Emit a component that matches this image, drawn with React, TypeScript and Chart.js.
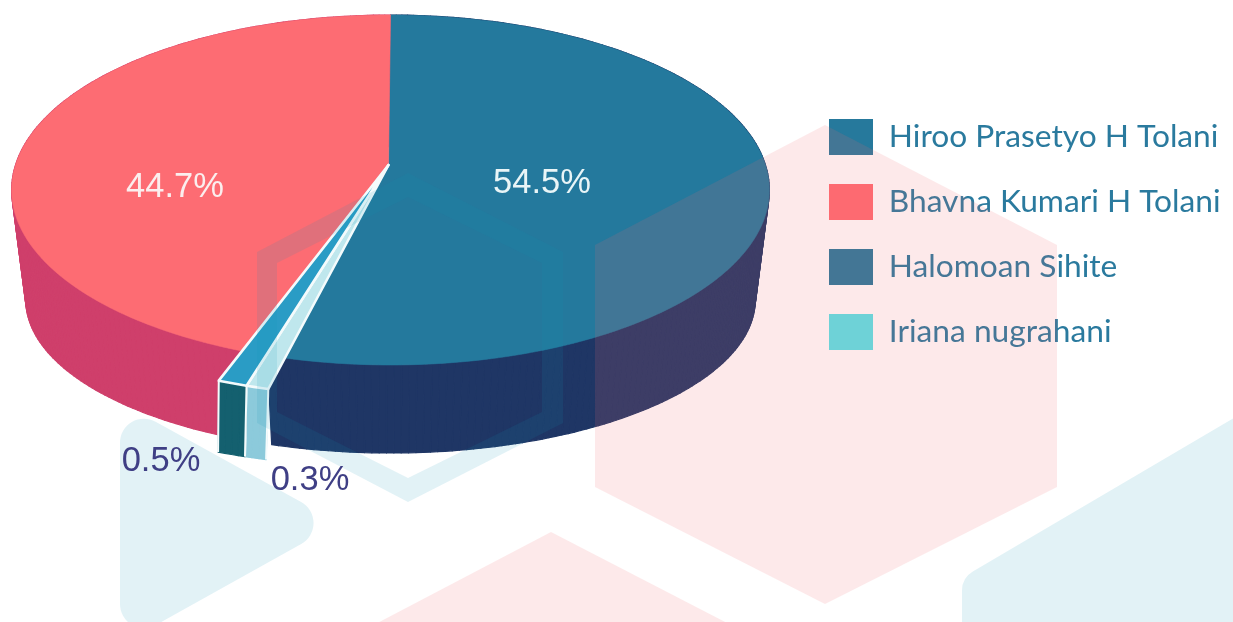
import React, { useEffect, useRef } from "react";
import { Chart, registerables } from "chart.js";

Chart.register(...registerables);

// ---- data (clockwise from 12 o'clock, as in the picture) ----
const categories = ["Hiroo Prasetyo H Tolani", "Iriana nugrahani", "Halomoan Sihite", "Bhavna Kumari H Tolani"];
const shares = [54.5, 0.3, 0.5, 44.7];
const shareLabels = ["54.5%", "0.3%", "0.5%", "44.7%"];
const legendOrder = ["Hiroo Prasetyo H Tolani", "Bhavna Kumari H Tolani", "Halomoan Sihite", "Iriana nugrahani"];

// ---- styles ----
const topColors = ["#24799d", "#bfe7ed", "#2a9cc5", "#fd6c73"];
const sideColors = ["#1f3665", "#8ccadb", "#14606f", "#cf3f6b"];
const legendColors = ["#26799c", "#58e5e9", "#26799c", "#ff6b72"];
const labelColors = ["#e9f5f7", "#3f3f85", "#3f3f85", "#fbeeee"];
const labelAnchors = [[542, 183], [310, 480], [161, 461], [175, 187]];
const explodedRadius = [1, 1.135, 1.135, 1];

// 3D projection of the unit disc
const PERSP = 1 / 7;
const TOP = { x: 390.5, y: 165, rx: 375, ry: 171.4 };
const BOTTOM = { x: 390.5, y: 278, rx: 361, ry: 150 };
const WEDGE_DEPTH = 0.83;
const WEDGE_LEAN = -6;

// tiny slices are drawn wider, the way the 3D picture exaggerates them (true deg -> drawn deg)
const angleKnots = [[0, 0], [196.2, 194], [197.28, 196.6], [199.08, 200], [360, 360]];
const drawnAngle = (deg: number) => {
  for (let i = 1; i < angleKnots.length; i++) {
    const [a0, b0] = angleKnots[i - 1];
    const [a1, b1] = angleKnots[i];
    if (deg <= a1) return b0 + ((deg - a0) / (a1 - a0)) * (b1 - b0);
  }
  return deg;
};

const project = (m: typeof TOP, deg: number, r: number) => {
  const t = (deg * Math.PI) / 180;
  const u = Math.sin(t) * r;
  const v = -Math.cos(t) * r;
  const w = 1 - PERSP * v;
  return [m.x + (m.rx * u) / w, m.y + (m.ry * v) / w];
};

const pieBackgroundHex = [[825, 125], [1057, 245], [1057, 487], [825, 604], [595, 487], [595, 245]];
const lowerHex = [[551, 532], [760, 640], [345, 640]];
const ringOuter = [[408, 173], [563, 252], [563, 423], [408, 502], [257, 423], [257, 252]];
const ringInner = [[408, 197], [542, 263], [542, 412], [408, 478], [277, 412], [277, 263]];
const triangle = [[120, 402], [339, 523], [120, 645]];
const cornerBlue = [[1300, 379], [962, 578], [962, 700], [1300, 700]];
const PINK_VEIL = "rgba(241,105,112,0.147)";
const BLUE_VEIL = "rgba(13,145,185,0.12)";

const polyPath = (ctx: CanvasRenderingContext2D, pts: number[][]) => {
  pts.forEach((p, i) => (i ? ctx.lineTo(p[0], p[1]) : ctx.moveTo(p[0], p[1])));
  ctx.closePath();
};
const roundedPath = (ctx: CanvasRenderingContext2D, pts: number[][], r: number) => {
  const n = pts.length;
  const a = pts[n - 1], b = pts[0];
  ctx.moveTo((a[0] + b[0]) / 2, (a[1] + b[1]) / 2);
  for (let i = 0; i < n; i++) {
    const p = pts[i], q = pts[(i + 1) % n];
    ctx.arcTo(p[0], p[1], q[0], q[1], r);
  }
  ctx.closePath();
};

const wall = (ctx: CanvasRenderingContext2D, from: number, to: number, r: number, depth: number, color: string, edge?: string, lean = 0) => {
  const pair = (d: number) => {
    const a = project(TOP, d, r);
    const b = project(BOTTOM, d, r);
    return [a, [a[0] + (b[0] - a[0]) * depth + lean, a[1] + (b[1] - a[1]) * depth]];
  };
  const n = Math.max(2, Math.ceil(to - from));
  ctx.fillStyle = color;
  ctx.strokeStyle = color;
  ctx.lineWidth = 1.2;
  for (let i = 0; i < n; i++) {
    const [a0, b0] = pair(from + ((to - from) * i) / n);
    const [a1, b1] = pair(from + ((to - from) * (i + 1)) / n);
    ctx.beginPath();
    polyPath(ctx, [a0, a1, b1, b0]);
    ctx.fill();
    ctx.stroke();
  }
  if (edge) {
    const [a0, b0] = pair(from);
    const [a1, b1] = pair(to);
    ctx.beginPath();
    ctx.moveTo(a1[0], a1[1]);
    ctx.lineTo(b1[0], b1[1]);
    ctx.moveTo(a0[0], a0[1]);
    ctx.lineTo(b0[0], b0[1]);
    ctx.strokeStyle = edge;
    ctx.lineWidth = 2;
    ctx.stroke();
  }
};

const face = (ctx: CanvasRenderingContext2D, from: number, to: number, r: number, color: string, edge?: string) => {
  const n = Math.max(2, Math.ceil(to - from));
  ctx.beginPath();
  ctx.moveTo(TOP.x - 2, TOP.y);
  for (let i = 0; i <= n; i++) {
    const p = project(TOP, from + ((to - from) * i) / n, r);
    ctx.lineTo(p[0], p[1]);
  }
  ctx.closePath();
  ctx.fillStyle = color;
  ctx.fill();
  if (edge) {
    ctx.strokeStyle = edge;
    ctx.lineWidth = 2.6;
    ctx.stroke();
  } else {
    ctx.strokeStyle = color;
    ctx.lineWidth = 0.6;
    ctx.stroke();
  }
};

const piePlugin = {
  id: "pie3d",
  afterLayout(chart: any) {
    const pad = chart.options.plugins.legend.labels.padding;
    chart.legend.left = 829 - pad;
    chart.legend.top = 119 - pad;
  },
  beforeDatasetDraw() {
    return false;
  },
  beforeDatasetsDraw(chart: any) {
    const ctx: CanvasRenderingContext2D = chart.ctx;
    const arcs = chart.getDatasetMeta(0).data.map((el: any) => {
      const { startAngle, endAngle } = el.getProps(["startAngle", "endAngle"], true);
      return [
        drawnAngle(((startAngle + Math.PI / 2) * 180) / Math.PI),
        drawnAngle(((endAngle + Math.PI / 2) * 180) / Math.PI),
      ];
    });
    ctx.save();
    ctx.lineJoin = "round";
    // large slices first, small exploded ones on top
    const large = [0, 3];
    const small = [1, 2];
    large.forEach((i) => wall(ctx, arcs[i][0] - (i === 3 ? 2.5 : 0), arcs[i][1] + (i === 0 ? 2.5 : 0), 1, 1, sideColors[i]));
    large.forEach((i) => face(ctx, arcs[i][0], arcs[i][1], 1, topColors[i]));
    small.forEach((i) => wall(ctx, arcs[i][0], arcs[i][1], explodedRadius[i], WEDGE_DEPTH, sideColors[i], "#f4fbfc", WEDGE_LEAN));
    small.forEach((i) => face(ctx, arcs[i][0], arcs[i][1], explodedRadius[i], topColors[i], "#f4fbfc"));
    ctx.restore();
  },
  afterDatasetsDraw(chart: any) {
    const ctx: CanvasRenderingContext2D = chart.ctx;
    ctx.save();
    ctx.fillStyle = PINK_VEIL;
    ctx.beginPath();
    polyPath(ctx, pieBackgroundHex);
    ctx.fill();
    ctx.beginPath();
    polyPath(ctx, lowerHex);
    ctx.fill();
    ctx.fillStyle = BLUE_VEIL;
    ctx.beginPath();
    polyPath(ctx, ringOuter);
    polyPath(ctx, ringInner);
    ctx.fill("evenodd");
    ctx.beginPath();
    roundedPath(ctx, triangle, 24);
    ctx.fill();
    ctx.beginPath();
    roundedPath(ctx, cornerBlue, 22);
    ctx.fill();

    ctx.font = '34.5px "Liberation Sans"';
    ctx.textAlign = "center";
    ctx.textBaseline = "middle";
    shareLabels.forEach((t, i) => {
      ctx.fillStyle = labelColors[i];
      ctx.fillText(t, labelAnchors[i][0], labelAnchors[i][1]);
    });
    ctx.restore();
  },
};

export default function App() {
  const ref = useRef<HTMLCanvasElement>(null);
  useEffect(() => {
    document.body.style.margin = "0";
    document.body.style.background = "#ffffff";
    const chart = new Chart(ref.current!, {
      type: "pie",
      data: {
        labels: categories,
        datasets: [{ data: shares, backgroundColor: topColors, borderWidth: 0 }],
      },
      options: {
        animation: false,
        responsive: false,
        plugins: {
          tooltip: { enabled: false },
          legend: {
            position: "right",
            align: "start",
            labels: {
              boxWidth: 44,
              boxHeight: 36,
              padding: 29,
              color: "#2a7a9e",
              font: { family: "Lato", size: 31.7 },
              generateLabels: (c: any) =>
                c.data.labels.map((text: string, i: number) => ({
                  text,
                  index: i,
                  fillStyle: legendColors[i],
                  strokeStyle: legendColors[i],
                  fontColor: "#2a7a9e",
                  lineWidth: 0,
                  hidden: false,
                })),
              sort: (a: any, b: any) => legendOrder.indexOf(a.text) - legendOrder.indexOf(b.text),
            },
          },
        },
      },
      plugins: [piePlugin],
    } as any);
    return () => chart.destroy();
  }, []);
  return <canvas ref={ref} width={1233} height={622} style={{ display: "block" }} />;
}
